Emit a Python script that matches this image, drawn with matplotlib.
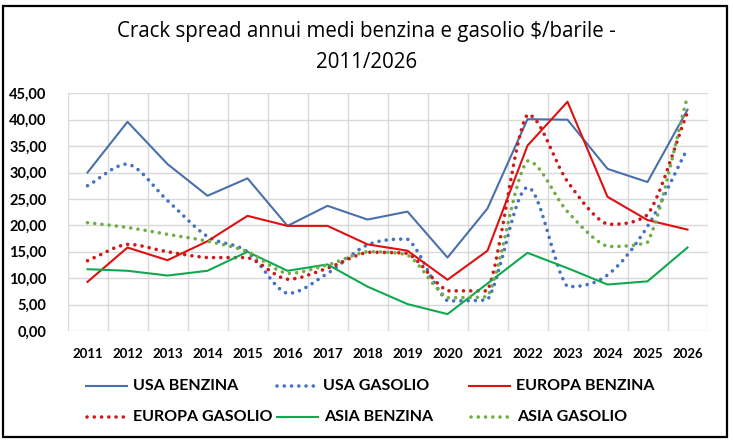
import matplotlib
matplotlib.use('Agg')
from matplotlib import pyplot as plt
from matplotlib.path import Path
from matplotlib.patches import PathPatch, Rectangle
from matplotlib.lines import Line2D

years = [str(y) for y in range(2011, 2027)]

usa_benzina = [30.0, 39.6, 31.6, 25.6, 28.9, 19.9, 23.7, 21.1,
               22.6, 13.9, 23.2, 40.1, 40.0, 30.7, 28.2, 41.9]
usa_gasolio = [27.5, 31.6, 24.7, 17.9, 15.0, 7.1, 10.9, 16.3,
               17.4, 5.7, 5.9, 27.2, 8.4, 10.6, 19.8, 34.6]
europa_benzina = [9.3, 15.8, 13.4, 17.0, 21.8, 19.9, 19.9, 16.4,
                  15.2, 9.7, 15.2, 35.1, 43.4, 25.4, 21.0, 19.2]
europa_gasolio = [13.3, 16.4, 15.0, 13.9, 13.9, 9.8, 11.9, 14.9,
                  14.7, 7.6, 7.6, 41.0, 28.3, 20.2, 22.0, 41.4]
asia_benzina = [11.7, 11.4, 10.5, 11.4, 15.0, 11.4, 12.6, 8.4,
                5.1, 3.2, 9.0, 14.8, 11.9, 8.8, 9.4, 15.8]
asia_gasolio = [20.5, 19.6, 18.3, 17.0, 15.0, 10.9, 12.5, 15.0,
                14.4, 6.3, 6.5, 32.2, 22.6, 16.0, 16.8, 44.4]

W, H = 733, 445
FONT = 'Lato'


def fx(px):
    return px / W


def fy(py):
    return (H - py) / H


def side_slope(m, s):
    # keep the control arm from overshooting on one side of a point
    if s == 0 or (m > 0) != (s > 0):
        return 0.0
    return min(abs(m), 3 * abs(s)) * (1 if m > 0 else -1)


def smooth_path(xs, ys):
    # smoothed line like excel's, drawn as cubic beziers through each point
    n = len(ys)
    sec = [ys[i + 1] - ys[i] for i in range(n - 1)]
    tang = [sec[0]] + [(ys[i + 1] - ys[i - 1]) / 2 for i in range(1, n - 1)] + [sec[-1]]
    verts = [(xs[0], ys[0])]
    codes = [Path.MOVETO]
    for i in range(n - 1):
        m_out = side_slope(tang[i], sec[i])
        m_in = side_slope(tang[i + 1], sec[i])
        c1 = (xs[i] + 1 / 3, ys[i] + m_out / 3)
        c2 = (xs[i + 1] - 1 / 3, ys[i + 1] - m_in / 3)
        verts += [c1, c2, (xs[i + 1], ys[i + 1])]
        codes += [Path.CURVE4] * 3
    return Path(verts, codes)


blue = '#4a70ab'
blue_dot = '#4472c4'
red = '#e01010'
red_dot = '#d01818'
green = '#10a850'
green_dot = '#70ad47'

series = [
    ('USA BENZINA', usa_benzina, blue, 'solid'),
    ('USA GASOLIO', usa_gasolio, blue_dot, 'dot'),
    ('EUROPA BENZINA', europa_benzina, red, 'solid'),
    ('EUROPA GASOLIO', europa_gasolio, red_dot, 'dot'),
    ('ASIA BENZINA', asia_benzina, green, 'solid'),
    ('ASIA GASOLIO', asia_gasolio, green_dot, 'dot'),
]

SOLID_LW = 1.5
DOT_LW = 2.6
DOT_STYLE = (0, (0.01, 2.0))

fig = plt.figure(figsize=(W / 100, H / 100), dpi=100)
ax = fig.add_axes([fx(67.5), fy(331), fx(707.5) - fx(67.5), fy(93.3) - fy(331)])

x = list(range(len(years)))
for name, vals, color, kind in series:
    if kind == 'solid':
        ax.plot(x, vals, color=color, lw=SOLID_LW, zorder=3)
    else:
        patch = PathPatch(smooth_path(x, vals), facecolor='none', edgecolor=color,
                          lw=DOT_LW, linestyle=DOT_STYLE, capstyle='round', zorder=3)
        ax.add_patch(patch)

ax.set_xlim(-0.5, len(years) - 0.5)
ax.set_ylim(0, 45)
ax.set_yticks(range(0, 46, 5))
ax.set_yticklabels([f'{v},00' for v in range(0, 46, 5)],
                   fontfamily=FONT, fontweight='bold', fontsize=10.5)
ax.set_xticks(x)
ax.set_xticklabels(years, fontfamily=FONT, fontweight='bold', fontsize=9.5)
ax.set_xticks([i - 0.5 for i in range(len(years) + 1)], minor=True)
ax.tick_params(axis='both', which='both', length=0)
ax.tick_params(axis='y', pad=15)
ax.tick_params(axis='x', pad=12)
ax.grid(True, which='minor', axis='x', color='#d9d9d9', lw=1)
ax.grid(True, which='major', axis='y', color='#d9d9d9', lw=1)
for s in ax.spines.values():
    s.set_visible(False)

fig.text(0.5, fy(31), 'Crack spread annui medi benzina e gasolio $/barile -',
         ha='center', va='center', fontfamily='Open Sans', fontsize=14.8)
fig.text(0.5, fy(63), '2011/2026', ha='center', va='center',
         fontfamily='Open Sans', fontsize=14.8)

# legend, laid out like the excel one
slots = [(86, 386), (276, 386), (469, 386), (86, 417), (277, 417), (470, 417)]
for (name, vals, color, kind), (lx, ly) in zip(series, slots):
    if kind == 'solid':
        ln = Line2D([fx(lx), fx(lx + 41)], [fy(ly), fy(ly)], color=color,
                    lw=SOLID_LW, transform=fig.transFigure)
    else:
        ln = Line2D([fx(lx + 1), fx(lx + 41)], [fy(ly), fy(ly)], color=color,
                    lw=DOT_LW, linestyle=DOT_STYLE, dash_capstyle='round',
                    transform=fig.transFigure)
    fig.add_artist(ln)
    fig.text(fx(lx + 47), fy(ly), name, ha='left', va='center',
             fontfamily=FONT, fontweight='bold', fontsize=11.5)

fig.add_artist(Rectangle((fx(3), fy(437)), fx(727) - fx(3), fy(6) - fy(437),
                         transform=fig.transFigure, fill=False,
                         edgecolor='black', lw=1.6))

fig.savefig('out.png', dpi=100)
